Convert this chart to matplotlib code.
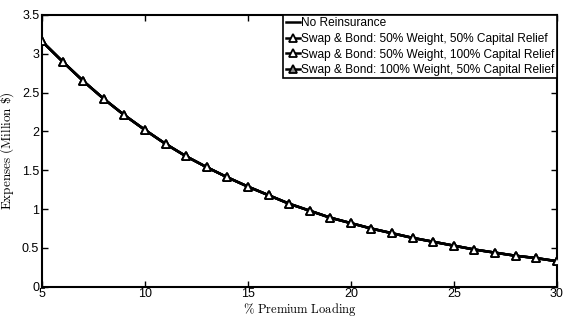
import matplotlib
matplotlib.use('Agg')
import numpy as np
import matplotlib.pyplot as plt

plt.rcParams['font.family'] = ['Liberation Sans', 'DejaVu Sans']
plt.rcParams['mathtext.fontset'] = 'cm'

loading = list(range(5, 31))
expenses = [3.16, 2.90, 2.65, 2.42, 2.21, 2.02, 1.84, 1.68, 1.54, 1.41, 1.29, 1.18, 1.07,
            0.98, 0.89, 0.82, 0.75, 0.69, 0.63, 0.58, 0.53, 0.48, 0.44, 0.40, 0.37, 0.33]
no_reins = expenses
swap_50_50 = expenses
swap_50_100 = expenses
swap_100_50 = expenses
labels = ['No Reinsurance',
          'Swap & Bond: 50% Weight, 50% Capital Relief',
          'Swap & Bond: 50% Weight, 100% Capital Relief',
          'Swap & Bond: 100% Weight, 50% Capital Relief']

fig = plt.figure(figsize=(5.63, 3.18), dpi=100)
ax = fig.add_axes([0.0746, 0.098, 0.9144, 0.855])

ax.plot(loading, no_reins, color='k', lw=1.8, label=labels[0], zorder=3)
ax.plot(loading, swap_50_50, color='k', lw=1.8, marker='^', ms=6, mfc='white', mew=1.3,
        label=labels[1], zorder=4)
ax.plot(loading, swap_50_100, color='k', lw=1.8, marker='^', ms=6, mfc='white', mew=1.3,
        label=labels[2], zorder=5)
ax.plot(loading, swap_100_50, color='k', lw=1.8, marker='^', ms=6, mfc='0.55', mew=1.3,
        label=labels[3], zorder=2)

ax.set_xlim(5, 30)
ax.set_ylim(0, 3.5)
ax.set_xticks([5, 10, 15, 20, 25, 30])
ax.set_yticks([0, 0.5, 1, 1.5, 2, 2.5, 3, 3.5])
ax.set_yticklabels(['0', '0.5', '1', '1.5', '2', '2.5', '3', '3.5'])
ax.tick_params(direction='in', top=True, right=True, labelsize=9, length=4, width=1, pad=2)
ax.tick_params(axis='x', pad=1)
for s in ax.spines.values():
    s.set_linewidth(1.5)

ax.set_xlabel(r'$\mathrm{\%\ Premium\ Loading}$', fontsize=9, labelpad=0.3)
ax.set_ylabel(r'$\mathrm{Expenses\ (Million\ \$)}$', fontsize=9.5, labelpad=4)

leg = ax.legend(loc='upper right', borderaxespad=0, fontsize=8.6, handlelength=1.2,
                handletextpad=0.1, borderpad=0.2, labelspacing=0.3, fancybox=False,
                framealpha=1, edgecolor='k')
leg.get_frame().set_linewidth(1.2)

fig.savefig('out.png', dpi=100)
